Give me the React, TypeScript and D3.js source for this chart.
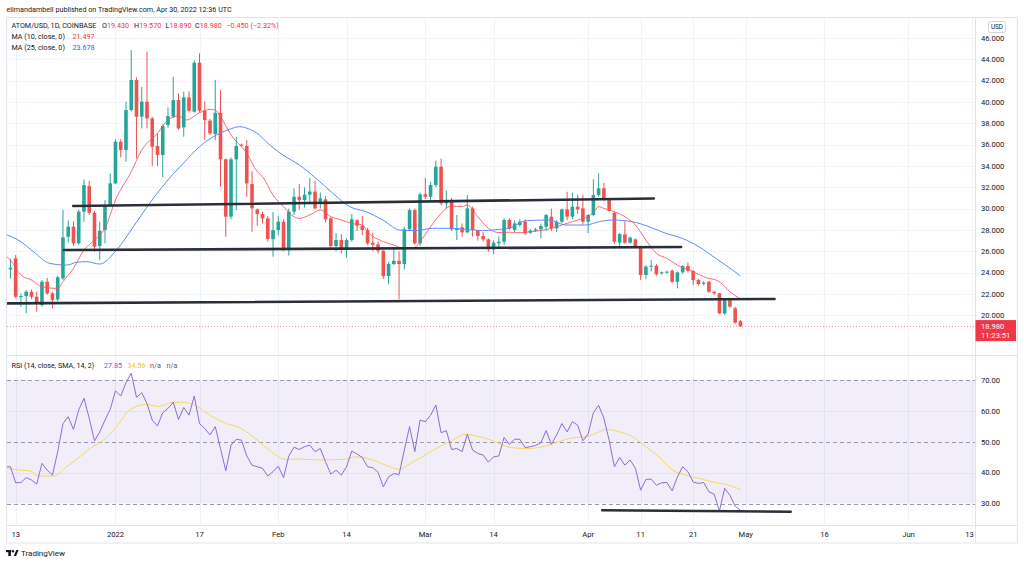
import React from "react";
import * as d3 from "d3";

// ---------- DATA ----------
const startDate = "2021-12-11"; // daily candles from this date
const opens = [
  23.6, 24.3, 25.33, 21.73, 21.8, 22.2, 21.73, 20.95, 23.14, 22.05,
  21.48, 23.45, 27.36, 28.3, 26.74, 29.71, 32.11, 29.61, 26.49, 27.99,
  30.24, 32.36, 36.27, 35.49, 39.24, 42.06, 38.62, 40.03, 38.46, 35.87,
  35.02, 37.84, 38.62, 40.18, 37.62, 40.43, 39.09, 43.68, 39.18, 38.25,
  36.99, 38.99, 34.62, 29.24, 34.62, 36.0, 35.87, 32.3, 29.92, 29.49,
  29.08, 27.14, 27.99, 28.77, 26.27, 29.71, 31.11, 30.8, 31.3, 31.6,
  30.65, 30.86, 29.08, 26.49, 27.05, 26.27, 27.05, 28.9, 28.4, 27.99,
  26.8, 26.65, 26.05, 23.67, 24.8, 25.1, 24.8, 28.05, 29.86, 26.74,
  31.34, 31.11, 32.21, 33.93, 30.49, 30.8, 27.99, 28.24, 27.77, 30.02,
  27.99, 27.43, 27.11, 26.17, 26.74, 26.89, 28.93, 28.0, 28.46, 28.77,
  27.74, 27.93, 28.05, 28.3, 29.24, 28.14, 28.77, 29.93, 29.24, 30.18,
  30.02, 28.77, 29.4, 31.27, 31.9, 30.87, 29.6, 26.8, 27.58, 26.8,
  27.11, 26.49, 23.77, 24.61, 24.64, 23.92, 24.02, 24.17, 23.14, 24.02,
  24.61, 24.17, 23.3, 22.95, 23.14, 22.2, 22.05, 20.17, 21.42, 20.64,
  19.43,
];
const highs = [
  25.5, 25.3, 25.64, 22.05, 22.36, 22.4, 22.2, 23.3, 23.5, 22.2,
  23.7, 29.86, 28.9, 28.8, 29.9, 32.74, 32.6, 29.8, 28.77, 30.8,
  33.3, 36.5, 36.5, 40.03, 44.87, 42.3, 41.4, 44.72, 38.6, 37.05,
  37.9, 39.5, 42.36, 40.8, 40.96, 41.0, 43.9, 44.56, 40.03, 38.4,
  42.06, 41.1, 34.7, 34.8, 36.74, 36.1, 36.43, 33.5, 30.0, 29.7,
  29.3, 29.7, 29.3, 29.0, 30.0, 31.9, 32.3, 32.0, 32.9, 32.6,
  31.5, 31.2, 29.2, 27.7, 27.6, 27.2, 29.5, 29.0, 29.3, 28.2,
  27.7, 26.9, 26.1, 25.0, 26.3, 26.0, 28.3, 30.0, 30.0, 31.5,
  32.9, 32.5, 34.5, 34.7, 31.7, 31.0, 29.4, 28.6, 31.27, 30.18,
  28.0, 27.8, 27.2, 27.0, 27.4, 29.08, 29.1, 28.9, 29.0, 29.0,
  28.1, 28.2, 28.6, 29.5, 30.0, 28.9, 30.0, 31.58, 31.5, 31.3,
  31.3, 29.5, 32.74, 33.3, 32.4, 31.0, 29.7, 27.7, 28.8, 27.4,
  27.2, 26.5, 24.7, 25.17, 24.8, 24.1, 24.2, 24.3, 24.1, 24.7,
  24.94, 24.2, 23.4, 23.2, 23.2, 22.3, 22.1, 21.5, 21.5, 20.8,
  19.57,
];
const lows = [
  22.5, 23.4, 21.6, 20.8, 20.17, 21.5, 20.32, 20.8, 21.9, 20.64,
  21.3, 23.3, 26.8, 26.5, 26.6, 28.77, 29.4, 25.95, 25.17, 26.74,
  30.2, 32.3, 34.8, 34.4, 39.1, 34.71, 37.52, 37.52, 33.99, 33.99,
  32.93, 37.6, 38.5, 37.4, 36.74, 39.0, 39.0, 39.0, 36.43, 36.9,
  36.43, 32.05, 27.36, 29.0, 29.86, 35.8, 31.11, 27.83, 28.4, 28.6,
  26.9, 25.49, 27.5, 26.0, 25.6, 29.4, 29.9, 30.1, 30.5, 29.9,
  30.0, 28.7, 26.3, 26.0, 25.8, 25.4, 26.9, 27.9, 27.5, 26.6,
  26.0, 25.8, 23.4, 22.9, 24.7, 21.49, 24.3, 27.9, 26.6, 26.5,
  30.9, 30.7, 32.0, 30.3, 30.0, 27.9, 27.05, 27.36, 27.7, 27.36,
  27.0, 26.9, 25.96, 25.74, 26.3, 26.6, 28.0, 27.8, 28.3, 27.5,
  27.6, 27.8, 27.2, 27.9, 27.9, 27.8, 28.6, 28.9, 29.0, 29.5,
  28.5, 27.7, 29.3, 31.1, 30.7, 29.7, 26.7, 26.42, 26.7, 26.7,
  26.3, 23.3, 23.4, 24.1, 23.7, 23.8, 23.9, 23.0, 22.52, 23.9,
  24.0, 22.83, 22.8, 22.8, 22.1, 21.9, 20.1, 20.0, 20.7, 19.2,
  18.89,
];
const closes = [
  24.1, 24.45, 21.73, 21.8, 22.2, 21.73, 21.11, 23.14, 22.05, 21.42,
  23.55, 27.3, 28.3, 26.74, 29.71, 32.21, 29.61, 26.42, 27.92, 30.24,
  32.36, 36.27, 35.49, 39.24, 42.06, 38.62, 40.03, 38.46, 35.8, 35.02,
  37.74, 38.68, 40.18, 37.52, 40.43, 39.18, 43.68, 39.18, 38.31, 37.05,
  38.99, 34.62, 29.24, 34.62, 35.87, 35.9, 32.36, 30.02, 29.49, 29.08,
  27.14, 27.99, 28.77, 26.27, 29.71, 31.11, 30.8, 31.3, 31.6, 30.02,
  30.96, 28.99, 26.49, 27.05, 26.27, 27.05, 28.99, 28.4, 27.99, 26.74,
  26.6, 26.05, 23.67, 24.8, 25.1, 24.8, 28.05, 29.86, 26.74, 31.34,
  31.11, 32.21, 33.93, 30.49, 30.8, 28.05, 28.14, 27.77, 30.02, 27.99,
  27.43, 27.11, 26.17, 26.8, 26.89, 28.93, 28.14, 28.61, 28.77, 27.68,
  27.93, 28.05, 28.36, 29.4, 28.14, 28.77, 29.93, 29.24, 30.18, 29.93,
  28.77, 29.4, 31.27, 31.9, 30.87, 29.8, 26.89, 27.61, 26.8, 27.27,
  26.42, 23.77, 24.55, 24.64, 23.83, 24.02, 24.08, 23.14, 24.02, 24.61,
  24.17, 23.3, 22.92, 23.05, 22.2, 22.05, 20.17, 21.42, 20.8, 19.3,
  18.98,
];
const rsiValues = [
  41.9, 41.9, 36.7, 36.8, 38.4, 37.6, 36.3, 43.0, 40.8, 39.2,
  46.8, 55.9, 58.1, 54.0, 60.3, 64.1, 57.6, 50.3, 53.2, 57.0,
  60.5, 66.5, 64.8, 69.1, 72.2, 64.4, 65.9, 62.4, 57.0, 55.1,
  59.4, 60.8, 62.8, 57.2, 61.1, 58.6, 64.8, 55.9, 54.3, 52.2,
  54.9, 47.8, 40.6, 48.9, 50.8, 50.5, 45.4, 42.4, 41.9, 41.4,
  38.9, 40.3, 42.1, 38.4, 45.4, 48.2, 47.5, 48.4, 48.9, 46.8,
  47.8, 43.5, 39.5, 40.8, 39.2, 41.9, 47.0, 46.0, 44.9, 41.9,
  41.6, 40.1, 35.4, 38.6, 39.7, 39.4, 47.3, 54.9, 46.8, 57.0,
  56.5, 58.6, 61.9, 52.9, 53.6, 47.5, 47.8, 46.8, 52.4, 47.3,
  46.2, 45.7, 43.4, 45.1, 45.4, 51.4, 49.2, 50.8, 50.8, 48.1,
  48.4, 48.8, 49.7, 53.6, 49.2, 52.2, 55.9, 53.2, 56.5, 55.4,
  50.3, 52.5, 59.4, 61.8, 57.6, 50.5, 41.9, 44.9, 42.4, 44.1,
  41.4, 34.3, 37.8, 37.9, 35.9, 36.7, 36.8, 34.1, 38.6, 41.9,
  40.3, 37.0, 36.5, 36.8, 33.8, 33.0, 27.6, 34.9, 32.7, 29.1,
  27.85,
];

// moving averages, as day offsets from lineBaseDate
const lineBaseDate = "2021-12-13";
const ma10Days = [-2, -1, 1, 3, 5, 8, 9, 11, 13, 15, 17, 19, 22, 24, 27, 29, 31, 32.5, 35, 37, 38, 39, 41, 44, 46, 47, 49, 51, 53, 54, 56, 58, 60, 62, 64, 66, 67, 70, 72, 74, 76, 77, 79, 81, 83, 85, 86, 88, 90, 92, 94, 96, 98, 102, 104, 106, 108, 110, 111, 112, 114, 116, 118, 120, 122, 124, 126, 129, 131, 134, 136, 138];
const ma10Values = [25.6, 25.17, 23.77, 23.3, 22.67, 22.51, 23.14, 24.39, 26.11, 27.05, 28.15, 30.8, 33.46, 35.49, 37.06, 38.31, 38.68, 38.31, 38.99, 39.31, 39.24, 38.62, 36.9, 35.2, 33.46, 33.0, 31.27, 30.18, 29.24, 29.08, 29.4, 29.87, 29.24, 28.93, 28.61, 28.46, 27.83, 26.9, 26.58, 26.27, 26.36, 26.9, 28.3, 29.55, 30.24, 30.18, 30.33, 29.24, 28.15, 27.75, 27.78, 27.74, 27.83, 28.14, 28.46, 28.77, 29.08, 29.61, 30.18, 30.02, 29.71, 29.24, 28.46, 27.05, 25.8, 25.33, 24.7, 24.08, 23.61, 23.14, 22.2, 21.5];
const ma25Days = [-2, 1, 3.4, 6.5, 9.7, 11.5, 13.5, 16, 19.2, 22.4, 25.5, 28.7, 31.9, 35, 38.2, 40.7, 42.6, 44.5, 46.4, 47.7, 50.9, 54, 57.2, 60.4, 63.6, 66.7, 69.9, 73.1, 76.3, 79.4, 82.6, 85.8, 88.9, 92.1, 94, 97.1, 101.6, 104.7, 108.5, 111.1, 113.6, 117.4, 120.6, 123.8, 126.9, 130.1, 133.3, 136.5, 138];
const ma25Values = [27.6, 26.89, 25.95, 24.86, 24.7, 24.95, 25.02, 24.8, 26.11, 28.3, 30.49, 32.52, 34.24, 35.81, 36.9, 37.43, 37.68, 37.45, 36.9, 36.27, 35.02, 34.09, 32.83, 31.43, 30.18, 29.71, 28.93, 27.99, 27.93, 28.15, 28.15, 28.05, 27.93, 28.05, 28.15, 28.86, 28.93, 28.46, 28.46, 28.77, 28.93, 28.77, 28.3, 27.68, 27.21, 26.42, 25.33, 24.24, 23.68];
const rsiMaDays = [-2, 0.8, 2.7, 4.3, 7.2, 9.7, 12.2, 14.8, 16.7, 19.2, 21.7, 24.9, 27.1, 30, 31.9, 34.4, 36.3, 40.1, 42.6, 46.4, 48.3, 51.5, 54, 57.9, 62.3, 64.8, 68, 70.5, 73, 75, 76.9, 79.5, 82.6, 85.8, 88.3, 90.9, 94, 97.2, 100.4, 102.9, 106.1, 108.6, 111.1, 112.4, 114.9, 117.5, 120, 122.5, 125.1, 127.6, 130.2, 132.7, 135.2, 138];
const rsiMaValues = [41.4, 40.8, 40.6, 38.9, 38.9, 41.9, 45.1, 48.6, 50.5, 54.9, 60.3, 62.1, 61.4, 62.8, 62.8, 61.6, 59.4, 55.9, 54.6, 50.0, 47.3, 44.3, 44.4, 44.1, 44.3, 45.1, 44.1, 42.4, 41.1, 42.8, 44.6, 47.3, 50.0, 52.4, 51.6, 50.3, 48.2, 47.8, 48.4, 49.7, 51.3, 51.6, 53.2, 54.0, 53.2, 51.6, 48.4, 45.1, 40.8, 39.2, 38.1, 37.0, 36.2, 34.56];

// hand-drawn trend lines (date, value)
const priceTrendStartDates = ["2021-12-23T23:00Z", "2021-12-22T04:00Z", "2021-12-11T08:00Z"];
const priceTrendStartValues = [30.24, 26.11, 21.11];
const priceTrendEndDates = ["2022-04-13T12:00Z", "2022-04-18T17:00Z", "2022-05-06T12:00Z"];
const priceTrendEndValues = [30.94, 26.4, 21.52];
const rsiTrendDates = ["2022-04-03T16:00Z", "2022-05-09T14:00Z"];
const rsiTrendValues = [27.8, 27.35];

const timeTickDates = ["2021-12-13", "2022-01-01", "2022-01-17", "2022-02-01", "2022-02-14", "2022-03-01", "2022-03-14", "2022-04-01", "2022-04-11", "2022-04-21", "2022-05-01", "2022-05-16", "2022-06-01", "2022-06-13"];
const timeTickLabels = ["13", "2022", "17", "Feb", "14", "Mar", "14", "Apr", "11", "21", "May", "16", "Jun", "13"];
const priceTicks = [20, 22, 24, 26, 28, 30, 32, 34, 36, 38, 40, 42, 44, 46];
const rsiTicks = [30, 40, 50, 60, 70];
const rsiDashed = [30, 50, 70];

const lastClose = 18.98;
const countdown = "11:23:51";

// ---------- CHART ----------
const FONT = "Roboto, 'Liberation Sans', Arial, sans-serif";
const UP = "#26a69a";
const DOWN = "#ef5350";
const TEXT = "#131722";
const GRID = "#f0f3fa";
const BORDER = "#e0e3eb";

export default function App() {
  const DAY = 86400000;
  const L = 7, R = 975;
  const top = 17.5, priceBottom = 355.5, rsiBottom = 525.5, axisBottom = 543, outerRight = 1017.5;

  const x = d3.scaleUtc().domain([new Date("2021-12-13"), new Date("2022-06-13")]).range([15.7, 971.5]);
  const yP = d3.scaleLinear().domain([20, 46]).range([315.2, 38]);
  const yR = d3.scaleLinear().domain([30, 70]).range([503.5, 380]);

  const start = new Date(startDate).getTime();
  const base = new Date(lineBaseDate).getTime();
  const candles = opens.map((o, i) => ({
    date: new Date(start + i * DAY), o, h: highs[i], l: lows[i], c: closes[i],
  }));

  const toPts = (days: number[], vals: number[]) => days.map((d, i) => ({ date: new Date(base + d * DAY), v: vals[i] }));
  const priceLine = d3.line<{ date: Date; v: number }>().x((d) => x(d.date)).y((d) => yP(d.v)).curve(d3.curveMonotoneX);
  const rsiLineSmooth = d3.line<{ date: Date; v: number }>().x((d) => x(d.date)).y((d) => yR(d.v)).curve(d3.curveMonotoneX);
  const rsiLine = d3.line<{ date: Date; v: number }>().x((d) => x(d.date)).y((d) => yR(d.v));
  const rsiPts = rsiValues.map((v, i) => ({ date: new Date(start + i * DAY), v }));

  const bw = 3.6;
  const crisp = (v: number) => Math.round(v) + 0.5;
  const LF = 7.2; // legend font size

  return (
    <svg width={1024} height={565} style={{ position: "absolute", left: 0, top: 0, background: "#fff" }} fontFamily={FONT}>
      <defs>
        <clipPath id="pclip"><rect x={L} y={top} width={R - L} height={priceBottom - top} /></clipPath>
        <clipPath id="rclip"><rect x={L} y={priceBottom} width={R - L} height={rsiBottom - priceBottom} /></clipPath>
      </defs>
      <rect x={0} y={0} width={1024} height={565} fill="#fff" />
      <text x={6.5} y={12} fontSize={LF} fill={TEXT}>elimandambell published on TradingView.com, Apr 30, 2022 12:36 UTC</text>

      {/* grids */}
      {priceTicks.map((t) => (
        <line key={"pg" + t} x1={L} x2={R} y1={crisp(yP(t))} y2={crisp(yP(t))} stroke={GRID} />
      ))}
      {timeTickDates.map((d, i) => (
        <line key={"vg" + i} x1={crisp(x(new Date(d)))} x2={crisp(x(new Date(d)))} y1={top} y2={rsiBottom} stroke={GRID} />
      ))}

      {/* RSI band */}
      <rect x={L} y={yR(70)} width={R - L} height={yR(30) - yR(70)} fill="#7e57c2" fillOpacity={0.1} />
      {[40, 60].map((t) => (
        <line key={"rg" + t} x1={L} x2={R} y1={crisp(yR(t))} y2={crisp(yR(t))} stroke="#e6e1f0" />
      ))}
      {rsiDashed.map((t) => (
        <line key={"rd" + t} x1={L} x2={R} y1={crisp(yR(t))} y2={crisp(yR(t))} stroke="#9d97ad" strokeDasharray="4 3" />
      ))}

      {/* price pane */}
      <g clipPath="url(#pclip)">
        <line x1={L} x2={R} y1={Math.round(yP(lastClose)) + 0.5} y2={Math.round(yP(lastClose)) + 0.5} stroke="#f23645" strokeOpacity={0.55} strokeDasharray="1 2" />
        {candles.map((k, i) => {
          const col = k.c >= k.o ? UP : DOWN;
          const cx = x(k.date);
          const yt = yP(Math.max(k.o, k.c));
          const yb = yP(Math.min(k.o, k.c));
          return (
            <g key={"c" + i}>
              <line x1={cx} x2={cx} y1={yP(k.h)} y2={yP(k.l)} stroke={col} strokeWidth={1} />
              <rect x={cx - bw / 2} y={yt} width={bw} height={Math.max(1, yb - yt)} fill={col} />
            </g>
          );
        })}
        <path d={priceLine(toPts(ma25Days, ma25Values)) || ""} fill="none" stroke="#5b8cf7" strokeWidth={1} />
        <path d={priceLine(toPts(ma10Days, ma10Values)) || ""} fill="none" stroke="#f7525f" strokeOpacity={0.85} strokeWidth={1} />
        {priceTrendStartDates.map((d, i) => (
          <line key={"tl" + i}
            x1={x(new Date(d))} y1={yP(priceTrendStartValues[i])}
            x2={x(new Date(priceTrendEndDates[i]))} y2={yP(priceTrendEndValues[i])}
            stroke="#2a2e39" strokeWidth={2.6} strokeLinecap="round" />
        ))}
      </g>

      {/* RSI pane */}
      <g clipPath="url(#rclip)">
        <path d={rsiLineSmooth(toPts(rsiMaDays, rsiMaValues)) || ""} fill="none" stroke="#f5d85a" strokeWidth={1} />
        <path d={rsiLine(rsiPts) || ""} fill="none" stroke="#8e6bd0" strokeWidth={1} />
        <line x1={x(new Date(rsiTrendDates[0]))} y1={yR(rsiTrendValues[0])} x2={x(new Date(rsiTrendDates[1]))} y2={yR(rsiTrendValues[1])}
          stroke="#2a2e39" strokeWidth={2.4} strokeLinecap="round" />
      </g>

      {/* frame */}
      <line x1={6.5} x2={outerRight} y1={top} y2={top} stroke={BORDER} />
      <line x1={6.5} x2={6.5} y1={top} y2={axisBottom} stroke={BORDER} />
      <line x1={outerRight} x2={outerRight} y1={top} y2={axisBottom} stroke={BORDER} />
      <line x1={6.5} x2={outerRight} y1={axisBottom} y2={axisBottom} stroke={BORDER} />
      <line x1={6.5} x2={outerRight} y1={priceBottom} y2={priceBottom} stroke={BORDER} />
      <line x1={6.5} x2={outerRight} y1={rsiBottom} y2={rsiBottom} stroke={BORDER} />
      <line x1={R + 0.5} x2={R + 0.5} y1={top} y2={axisBottom} stroke={BORDER} />

      {/* legends */}
      <text x={11.5} y={27.5} fontSize={LF} fill={TEXT}>
        <tspan>ATOM/USD, 1D, COINBASE</tspan>
        <tspan x={102}>O</tspan><tspan fill="#f23645">19.430</tspan>
        <tspan x={134}>H</tspan><tspan fill="#f23645">19.570</tspan>
        <tspan x={165.5}>L</tspan><tspan fill="#f23645">18.890</tspan>
        <tspan x={195}>C</tspan><tspan fill="#f23645">18.980</tspan>
        <tspan x={226.5} fill="#f23645">−0.450 (−2.32%)</tspan>
      </text>
      <text x={11.5} y={38.5} fontSize={LF} fill={TEXT}>
        <tspan>MA (10, close, 0)</tspan><tspan x={72.5} fill="#f23645">21.497</tspan>
      </text>
      <text x={11.5} y={50} fontSize={LF} fill={TEXT}>
        <tspan>MA (25, close, 0)</tspan><tspan x={72.5} fill="#2962ff">23.678</tspan>
      </text>
      <text x={11.5} y={367.5} fontSize={LF} fill={TEXT}>
        <tspan>RSI (14, close, SMA, 14, 2)</tspan>
        <tspan x={104} fill="#7e57c2">27.85</tspan>
        <tspan x={127.5} fill="#f0c419">34.56</tspan>
        <tspan x={150} fill="#5d606b">n/a</tspan>
        <tspan x={166.5} fill="#5d606b">n/a</tspan>
      </text>

      {/* price axis */}
      <rect x={988.5} y={21.5} width={17} height={11} rx={2} fill="#fff" stroke="#d1d4dc" />
      <text x={997} y={29.3} fontSize={6.4} fill={TEXT} textAnchor="middle">USD</text>
      {priceTicks.map((t) => (
        <text key={"pl" + t} x={981} y={yP(t) + 2.8} fontSize={7.6} fill={TEXT}>{d3.format(".3f")(t)}</text>
      ))}
      <rect x={975.5} y={yP(lastClose) - 6} width={40.5} height={21} fill="#f23645" />
      <text x={981} y={yP(lastClose) + 2.8} fontSize={7.6} fill="#fff">{d3.format(".3f")(lastClose)}</text>
      <text x={981} y={yP(lastClose) + 11.8} fontSize={7.6} fill="#fff">{countdown}</text>

      {/* rsi axis */}
      {rsiTicks.map((t) => (
        <text key={"rl" + t} x={981} y={yR(t) + 2.8} fontSize={7.6} fill={TEXT}>{d3.format(".2f")(t)}</text>
      ))}

      {/* time axis */}
      {timeTickDates.map((d, i) => (
        <text key={"tx" + i} x={i === timeTickDates.length - 1 ? x(new Date(d)) - 2 : x(new Date(d))} y={537} fontSize={7.6} fill={TEXT}
          textAnchor="middle">{timeTickLabels[i]}</text>
      ))}

      {/* logo */}
      <g fill={TEXT}>
        <rect x={6} y={550} width={5} height={2.2} />
        <rect x={8.3} y={550} width={2.6} height={6} />
        <circle cx={12.9} cy={551.2} r={1.2} />
        <polygon points="13.8,556 16.3,550 18.6,550 16.1,556" />
      </g>
      <text x={21} y={556} fontSize={8} fill={TEXT}>TradingView</text>
    </svg>
  );
}
